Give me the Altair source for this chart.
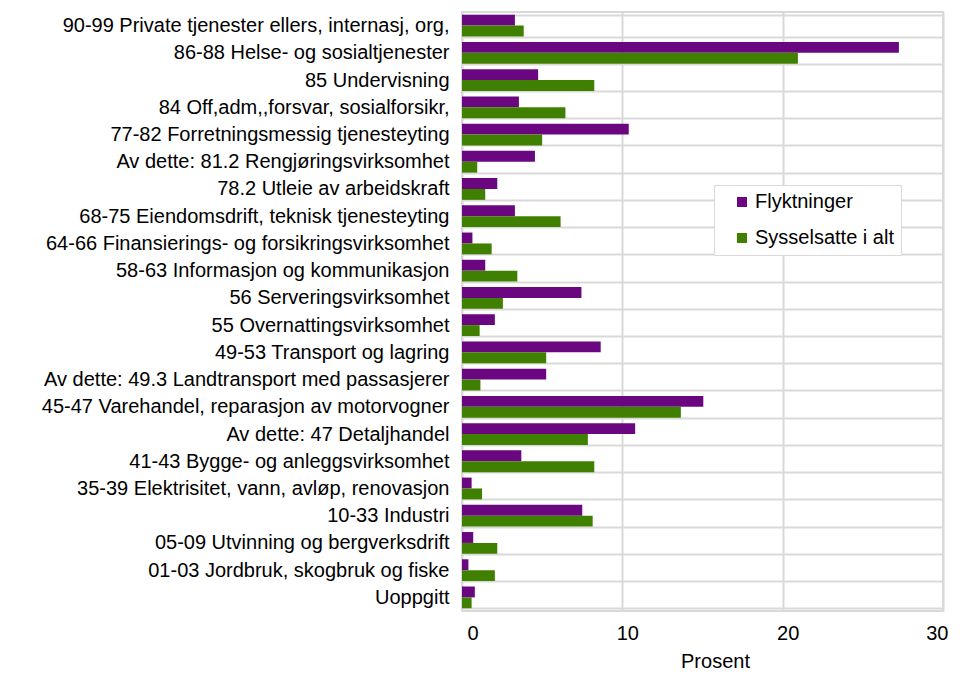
import altair as alt
import pandas as pd

categories = [
    "90-99 Private tjenester ellers, internasj, org,",
    "86-88 Helse- og sosialtjenester",
    "85 Undervisning",
    "84 Off,adm,,forsvar, sosialforsikr,",
    "77-82 Forretningsmessig tjenesteyting",
    "Av dette: 81.2 Rengjøringsvirksomhet",
    "78.2 Utleie av arbeidskraft",
    "68-75 Eiendomsdrift, teknisk tjenesteyting",
    "64-66 Finansierings- og forsikringsvirksomhet",
    "58-63 Informasjon og kommunikasjon",
    "56 Serveringsvirksomhet",
    "55 Overnattingsvirksomhet",
    "49-53 Transport og lagring",
    "Av dette: 49.3 Landtransport med passasjerer",
    "45-47 Varehandel, reparasjon av motorvogner",
    "Av dette: 47 Detaljhandel",
    "41-43 Bygge- og anleggsvirksomhet",
    "35-39 Elektrisitet, vann, avløp, renovasjon",
    "10-33 Industri",
    "05-09 Utvinning og bergverksdrift",
    "01-03 Jordbruk, skogbruk og fiske",
    "Uoppgitt",
]
flyktninger = [3.3, 27.25, 4.75, 3.55, 10.4, 4.55, 2.2, 3.3, 0.65, 1.45, 7.45, 2.05,
               8.65, 5.25, 15.05, 10.8, 3.7, 0.6, 7.5, 0.7, 0.4, 0.8]
sysselsatte = [3.85, 20.95, 8.25, 6.45, 5.0, 0.95, 1.45, 6.15, 1.85, 3.45, 2.55, 1.1,
               5.25, 1.15, 13.65, 7.85, 8.25, 1.25, 8.15, 2.2, 2.05, 0.6]
series = ["Flyktninger", "Sysselsatte i alt"]
colors = ["#6a0680", "#408000"]
x_ticks = [0, 10, 20, 30]

rows = []
for c, f, s in zip(categories, flyktninger, sysselsatte):
    rows.append({"kategori": c, "serie": series[0], "verdi": f})
    rows.append({"kategori": c, "serie": series[1], "verdi": s})
df = pd.DataFrame(rows)

FONT = "Liberation Sans"
FS = 20
PAD = "\u00a0" * 5

chart = alt.Chart(df).mark_bar().encode(
    y=alt.Y("kategori:N", sort=categories,
            scale=alt.Scale(paddingInner=0.2, paddingOuter=0.1),
            axis=alt.Axis(title=None, ticks=False, tickSize=0, tickBand="extent",
                          grid=True, gridColor="#d9d9d9", gridWidth=2,
                          domain=False, labelFontSize=FS, labelFont=FONT,
                          labelColor="black", labelPadding=13, labelLimit=500)),
    yOffset=alt.YOffset("serie:N", sort=series),
    x=alt.X("verdi:Q", scale=alt.Scale(domain=[0, 30], nice=False),
            axis=alt.Axis(title="Prosent", values=x_ticks, grid=True,
                          gridColor="#d9d9d9", gridWidth=2, domain=False,
                          ticks=False, tickSize=0, labelFontSize=FS, labelFont=FONT,
                          labelColor="black", labelPadding=12, labelOffset=5,
                          titleFontSize=FS, titleFont=FONT, titleFontWeight="normal",
                          titleColor="black", titlePadding=8, titleX=253)),
    color=alt.Color("serie:N", sort=series,
                    scale=alt.Scale(domain=series, range=colors),
                    legend=alt.Legend(title=None, orient="none", legendX=252, legendY=173,
                                      symbolType="square", symbolSize=100,
                                      symbolStrokeWidth=0, symbolOffset=11,
                                      labelOffset=3,
                                      labelFontSize=FS, labelFont=FONT,
                                      labelColor="black", rowPadding=16, padding=7,
                                      strokeColor="#d9d9d9", fillColor="white",
                                      labelExpr="datum.label + '" + PAD + "'")),
).properties(
    width=481,
    height=599,
    autosize=alt.AutoSizeParams(type="none"),
    padding={"left": 454, "top": 4, "right": 12, "bottom": 68},
).configure_view(
    stroke="#d9d9d9", strokeWidth=2
).configure_axis(
    gridOpacity=1
)

chart.save("out.html", embed_options={"renderer": "svg", "actions": False})
